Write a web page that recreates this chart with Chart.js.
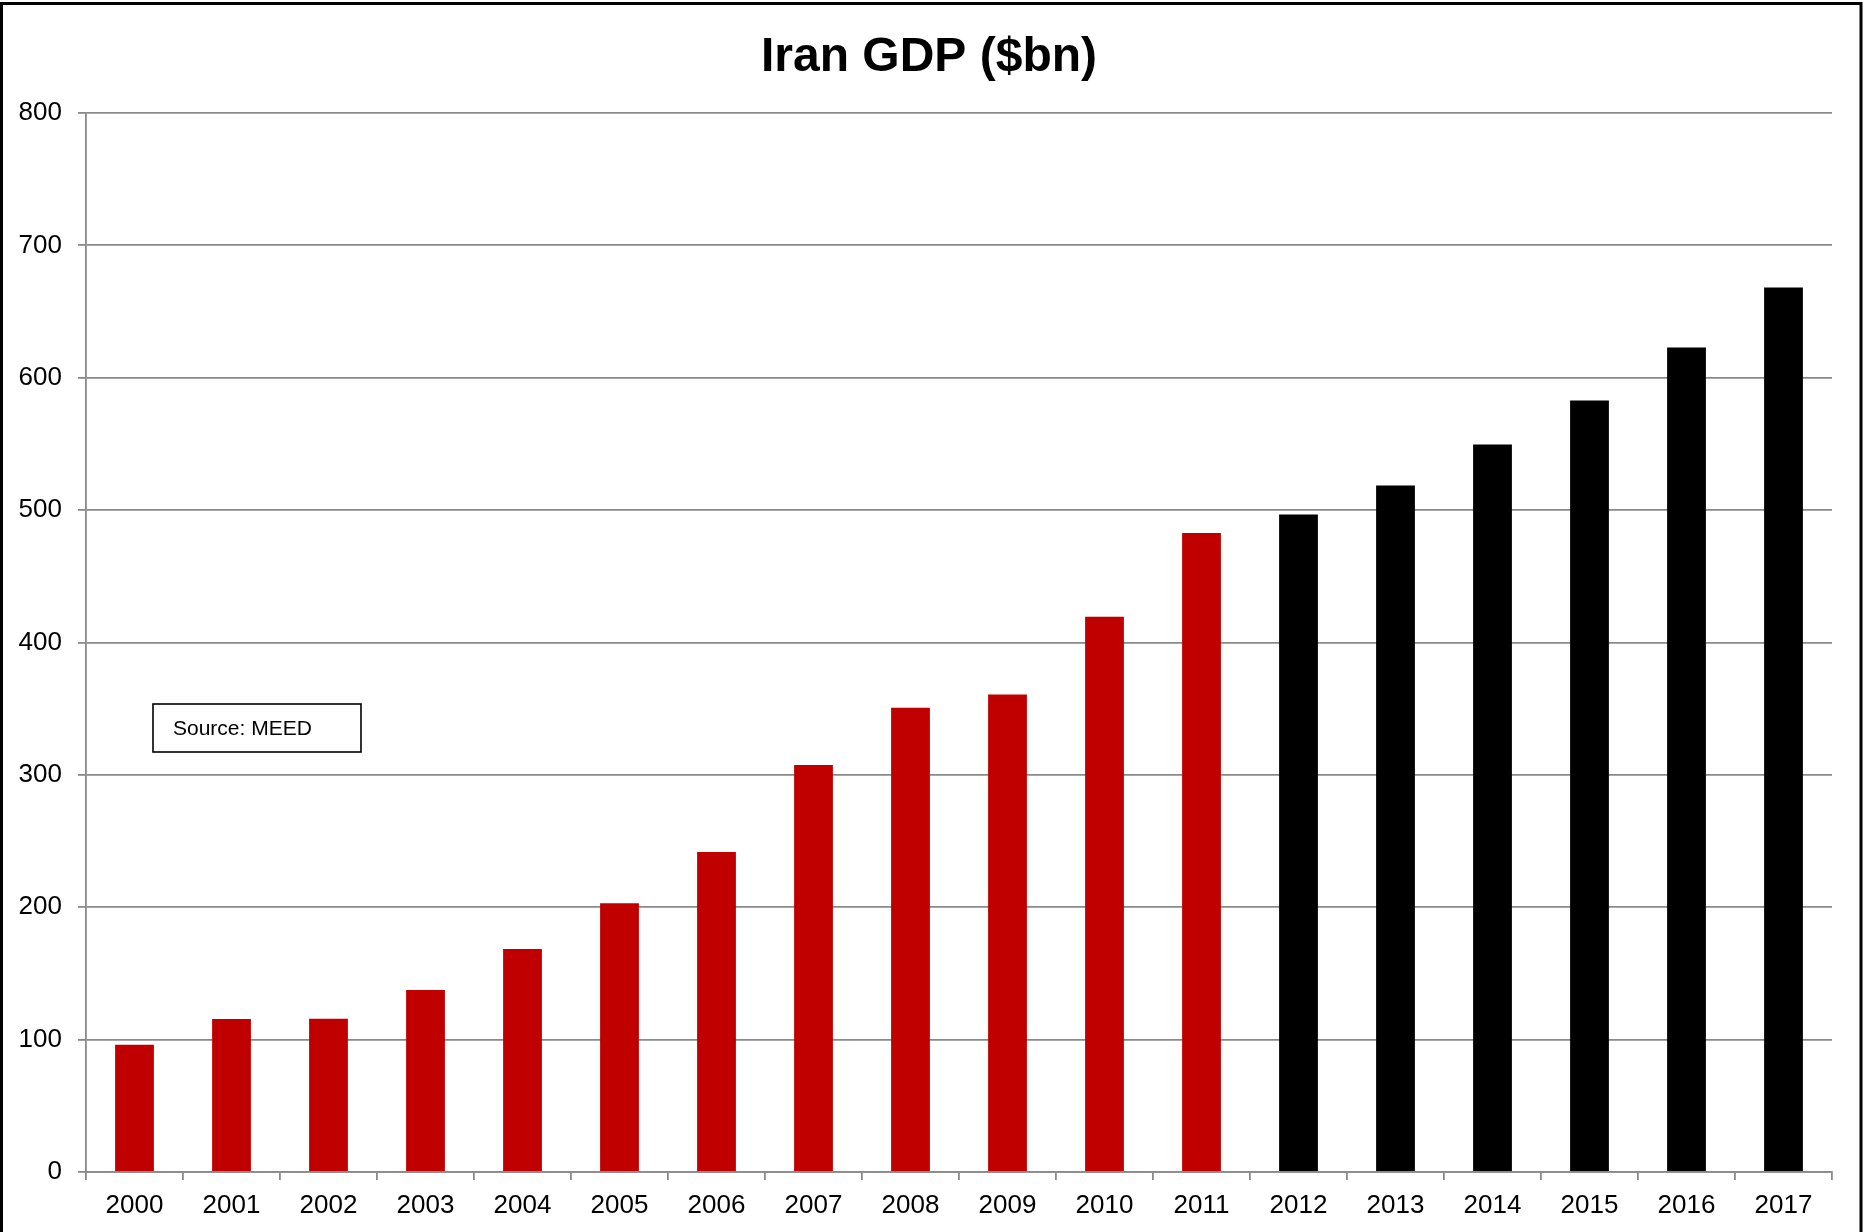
<!DOCTYPE html>
<html>
<head>
<meta charset="utf-8">
<script src="https://cdn.jsdelivr.net/npm/chart.js@4/dist/chart.umd.min.js"></script>
<style>
  html, body { margin: 0; padding: 0; background: #ffffff; }
  #wrap { width: 1865px; height: 1232px; }
</style>
</head>
<body>
<div id="wrap"><canvas id="c" width="1865" height="1232"></canvas></div>
<script>
const years = ['2000','2001','2002','2003','2004','2005','2006','2007','2008','2009','2010','2011','2012','2013','2014','2015','2016','2017'];
const gdp = [96.2, 115.6, 115.8, 137.5, 168.5, 203.0, 241.8, 307.5, 350.8, 360.7, 419.4, 482.8, 496.7, 518.6, 549.6, 582.8, 622.9, 668.2];
const yTicks = [0, 100, 200, 300, 400, 500, 600, 700, 800];
const firstForecastYear = '2012';
const titleText = 'Iran GDP ($bn)';
const sourceText = 'Source: MEED';

const RED = '#C00000';
const BLACK = '#000000';
const GRID = '#8a8a8a';
const FONT = '"Liberation Sans", Arial, Helvetica, sans-serif';

const extras = {
  id: 'extras',
  afterDraw(chart) {
    const ctx = chart.ctx;
    ctx.save();
    // Title
    ctx.fillStyle = '#000000';
    ctx.font = 'bold 48px ' + FONT;
    ctx.textAlign = 'center';
    ctx.textBaseline = 'alphabetic';
    ctx.fillText(titleText, 929, 71);
    // Source box
    ctx.fillStyle = '#ffffff';
    ctx.fillRect(153, 704, 208, 48);
    ctx.strokeStyle = '#000000';
    ctx.lineWidth = 1.6;
    ctx.strokeRect(153, 704, 208, 48);
    ctx.fillStyle = '#000000';
    ctx.font = '21px ' + FONT;
    ctx.textBaseline = 'alphabetic';
    ctx.textAlign = 'left';
    ctx.fillText(sourceText, 173, 735);
    // Outer frame
    ctx.lineWidth = 3;
    ctx.strokeStyle = '#000000';
    ctx.beginPath();
    ctx.moveTo(1.5, 1240);
    ctx.lineTo(1.5, 3.5);
    ctx.lineTo(1861, 3.5);
    ctx.lineTo(1861, 1240);
    ctx.stroke();
    ctx.restore();
  }
};

new Chart(document.getElementById('c'), {
  type: 'bar',
  data: {
    labels: years,
    datasets: [{
      label: 'GDP',
      data: gdp,
      backgroundColor: (c) => (years[c.dataIndex] >= firstForecastYear ? BLACK : RED),
      borderWidth: 0,
      barPercentage: 0.40,
      categoryPercentage: 1.0
    }]
  },
  options: {
    responsive: false,
    animation: false,
    devicePixelRatio: 1,
    layout: { padding: { left: 0, right: 33, top: 113, bottom: 0 } },
    plugins: {
      legend: { display: false },
      tooltip: { enabled: false },
      title: { display: false }
    },
    scales: {
      x: {
        grid: {
          display: true,
          drawOnChartArea: false,
          drawTicks: true,
          offset: true,
          tickLength: 8,
          color: GRID,
          lineWidth: 1.8
        },
        border: { display: true, color: GRID, width: 1.8 },
        ticks: {
          color: '#000000',
          font: { family: FONT, size: 26 },
          padding: 10,
          maxRotation: 0,
          autoSkip: false
        },
        afterFit(scale) { scale.height = 60; }
      },
      y: {
        min: 0,
        max: 800,
        afterBuildTicks(scale) { scale.ticks = yTicks.map(v => ({ value: v })); },
        grid: {
          color: GRID,
          lineWidth: 1.8,
          tickLength: 8,
          drawTicks: true
        },
        border: { display: true, color: GRID, width: 1.8 },
        ticks: {
          color: '#000000',
          font: { family: FONT, size: 26 },
          padding: 16
        },
        afterFit(scale) { scale.width = 86; }
      }
    }
  },
  plugins: [extras]
});
</script>
</body>
</html>
